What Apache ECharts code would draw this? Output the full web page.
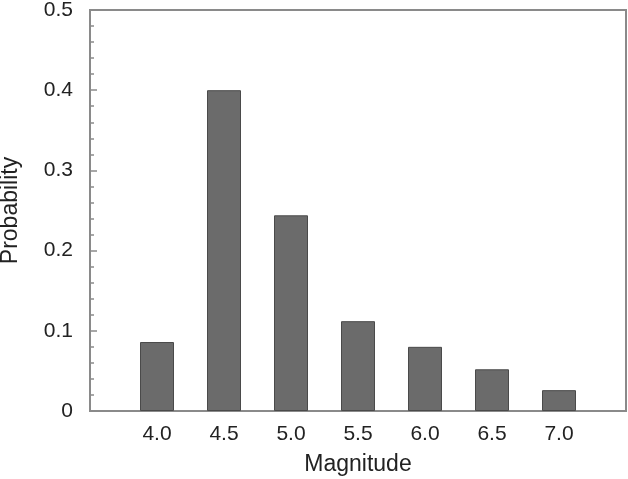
<!DOCTYPE html>
<html>
<head>
<meta charset="utf-8">
<script src="https://cdn.jsdelivr.net/npm/echarts@6/dist/echarts.min.js"></script>
<style>
  html, body { margin: 0; padding: 0; background: #fff; }
  #chart { width: 628px; height: 479px; }
</style>
</head>
<body>
<div id="chart"></div>
<script>
// magnitude bins and their probability
const magnitudes = [4.0, 4.5, 5.0, 5.5, 6.0, 6.5, 7.0]
const probability = [0.086, 0.400, 0.244, 0.112, 0.080, 0.052, 0.026]
const yTicks = [0, 0.1, 0.2, 0.3, 0.4, 0.5]

const chart = echarts.init(document.getElementById('chart'))
const textColor = '#222'
const axisColor = '#8a8a8a'

chart.setOption({
  animation: false,
  grid: {
    left: 90,
    right: 2,
    top: 10,
    bottom: 68,
    outerBoundsMode: 'none',
    containLabel: false,
    show: true,
    borderColor: axisColor,
    borderWidth: 2
  },
  xAxis: {
    type: 'value',
    min: 3.5,
    max: 7.5,
    interval: 0.5,
    name: 'Magnitude',
    nameLocation: 'middle',
    nameGap: 42,
    nameTextStyle: { fontFamily: 'Liberation Sans', fontSize: 23, color: textColor },
    axisLine: { show: true, lineStyle: { color: axisColor, width: 2 } },
    axisTick: { show: false },
    splitLine: { show: false },
    axisLabel: {
      margin: 13,
      fontFamily: 'Liberation Sans',
      fontSize: 21,
      color: textColor,
      formatter: v => (v < 3.9 || v > 7.1) ? '' : v.toFixed(1)
    }
  },
  yAxis: {
    type: 'value',
    min: 0,
    max: 0.5,
    interval: 0.1,
    name: 'Probability',
    nameLocation: 'middle',
    nameGap: 68,
    nameTextStyle: { fontFamily: 'Liberation Sans', fontSize: 23, color: textColor },
    axisLine: { show: true, lineStyle: { color: axisColor, width: 2 } },
    axisTick: { show: true, inside: true, length: 7, lineStyle: { color: axisColor, width: 1.5 } },
    minorTick: { show: true, splitNumber: 5, length: 4, lineStyle: { color: axisColor, width: 1.5 } },
    splitLine: { show: false },
    axisLabel: {
      margin: 17,
      fontFamily: 'Liberation Sans',
      fontSize: 21,
      color: textColor,
      formatter: v => {
        const t = yTicks.find(k => Math.abs(k - v) < 1e-9)
        return t === 0 ? '0' : t.toFixed(1)
      }
    }
  },
  series: [{
    type: 'bar',
    barWidth: 34,
    data: magnitudes.map((m, i) => [m, probability[i]]),
    itemStyle: {
      color: '#6b6b6b',
      borderColor: '#4a4a4a',
      borderWidth: 1
    }
  }]
})
</script>
</body>
</html>
